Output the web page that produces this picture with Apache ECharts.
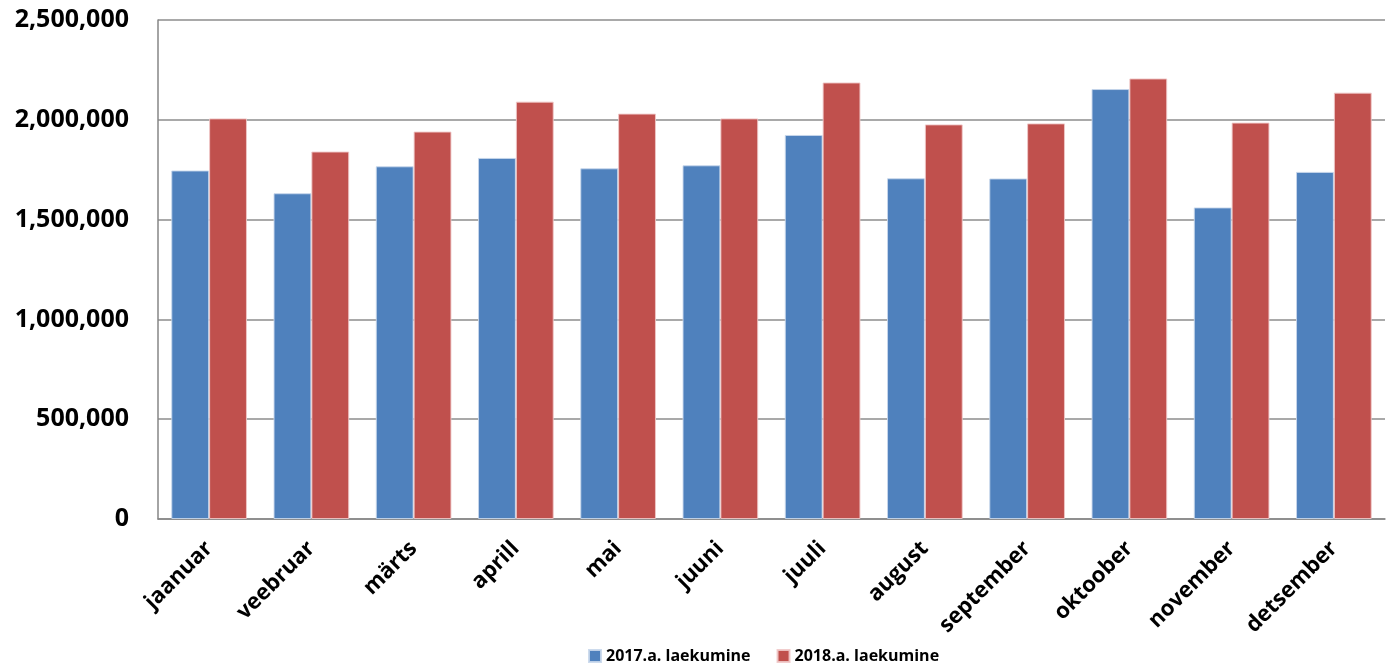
<!DOCTYPE html>
<html>
<head>
<meta charset="utf-8">
<script src="https://cdn.jsdelivr.net/npm/echarts@6/dist/echarts.min.js"></script>
<style>html,body{margin:0;padding:0;background:#fff}#c{width:1387px;height:668px}</style>
</head>
<body>
<div id="c"></div>
<script>
var categories = ['jaanuar','veebruar','märts','aprill','mai','juuni','juuli','august','september','oktoober','november','detsember'];
var series2017 = [1746000,1632000,1767000,1809000,1757000,1772000,1924000,1707000,1706000,2154000,1561000,1739000];
var series2018 = [2007000,1841000,1941000,2091000,2031000,2007000,2187000,1977000,1982000,2207000,1986000,2136000];
var seriesNames = ['2017.a. laekumine','2018.a. laekumine'];
var yTicks = {min:0, max:2500000, interval:500000};

var chart = echarts.init(document.getElementById('c'));
var font = '"Open Sans", sans-serif';
chart.setOption({
  animation:false,
  grid:{left:158, right:2, top:20, bottom:149, containLabel:false},
  legend:{
    data:seriesNames, bottom:-1, left:583, itemWidth:12, itemHeight:12, itemGap:26,
    icon:'rect',
    textStyle:{fontFamily:font, fontWeight:'bold', fontSize:16, color:'#000'}
  },
  xAxis:{
    type:'category', data:categories,
    axisLine:{lineStyle:{color:'#868686', width:1.5}},
    axisTick:{show:false},
    axisLabel:{interval:0, rotate:45, margin:26, fontFamily:font, fontWeight:'bold', fontSize:22, color:'#000'}
  },
  yAxis:{
    type:'value', min:yTicks.min, max:yTicks.max, interval:yTicks.interval,
    axisLine:{show:true, lineStyle:{color:'#868686', width:1.5}},
    axisTick:{show:false},
    splitLine:{lineStyle:{color:'#8c8c8c', width:1.5}},
    axisLabel:{margin:29, fontFamily:font, fontWeight:'bold', fontSize:25, color:'#000',
      formatter:function(v){return v.toString().replace(/\B(?=(\d{3})+(?!\d))/g, ',');}}
  },
  series:[
    {name:seriesNames[0], type:'bar', data:series2017, barGap:'0%', barCategoryGap:'26%',
     itemStyle:{color:'#4F81BD', borderColor:'rgba(200,215,235,0.9)', borderWidth:1}},
    {name:seriesNames[1], type:'bar', data:series2018, barGap:'0%', barCategoryGap:'26%',
     itemStyle:{color:'#C0504D', borderColor:'rgba(240,200,200,0.9)', borderWidth:1}}
  ]
});
</script>
</body>
</html>
